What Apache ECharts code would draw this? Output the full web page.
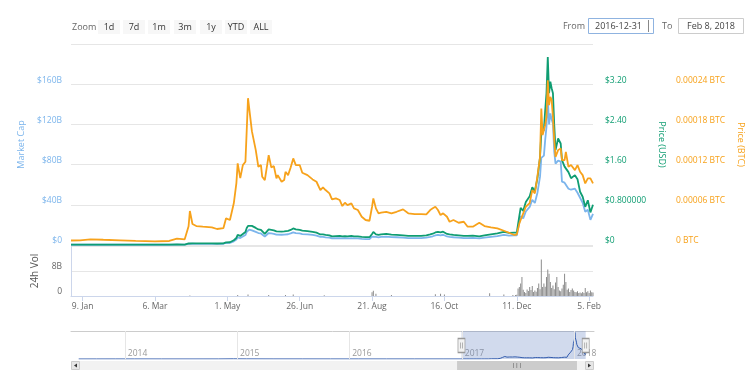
<!DOCTYPE html>
<html><head><meta charset="utf-8">
<script src="https://cdn.jsdelivr.net/npm/echarts@6/dist/echarts.min.js"></script>
<style>html,body{margin:0;padding:0;background:#fff;}#c{width:750px;height:375px;}</style>
</head><body><div id="c"></div>
<script>
// ---------- DATA ----------
const dates = ['2016-12-31','2017-01-07','2017-01-15','2017-01-25','2017-02-07','2017-02-19','2017-03-06','2017-03-17','2017-03-23','2017-03-29',
'2017-04-01','2017-04-02','2017-04-04','2017-04-07','2017-04-12','2017-04-19','2017-04-23','2017-04-28','2017-04-30','2017-05-03',
'2017-05-06','2017-05-08','2017-05-09','2017-05-11','2017-05-13','2017-05-15','2017-05-16','2017-05-17','2017-05-18','2017-05-20',
'2017-05-21','2017-05-23','2017-05-25','2017-05-27','2017-05-28','2017-05-30','2017-06-02','2017-06-04','2017-06-06','2017-06-08',
'2017-06-09','2017-06-12','2017-06-14','2017-06-15','2017-06-17','2017-06-19','2017-06-21','2017-06-23','2017-06-26','2017-06-28',
'2017-07-02','2017-07-06','2017-07-09','2017-07-12','2017-07-14','2017-07-16','2017-07-19','2017-07-21','2017-07-24','2017-07-27',
'2017-07-29','2017-07-31','2017-08-02','2017-08-05','2017-08-07','2017-08-10','2017-08-13','2017-08-16','2017-08-19','2017-08-20',
'2017-08-21','2017-08-22','2017-08-24','2017-08-26','2017-08-28','2017-09-01','2017-09-05','2017-09-09','2017-09-14','2017-09-18',
'2017-09-23','2017-09-28','2017-10-02','2017-10-05','2017-10-07','2017-10-09','2017-10-11','2017-10-13','2017-10-15','2017-10-18',
'2017-10-20','2017-10-23','2017-10-27','2017-10-31','2017-11-03','2017-11-07','2017-11-12','2017-11-16','2017-11-21','2017-11-26',
'2017-12-01','2017-12-05','2017-12-09','2017-12-11','2017-12-13','2017-12-14','2017-12-16','2017-12-18','2017-12-21','2017-12-23',
'2017-12-25','2017-12-27','2017-12-29','2017-12-30','2017-12-31','2018-01-01','2018-01-02','2018-01-03','2018-01-04','2018-01-05',
'2018-01-06','2018-01-07','2018-01-08','2018-01-09','2018-01-10','2018-01-12','2018-01-14','2018-01-15','2018-01-17','2018-01-18',
'2018-01-20','2018-01-22','2018-01-25','2018-01-27','2018-01-29','2018-01-31','2018-02-02','2018-02-04','2018-02-06','2018-02-08'];

// Market cap, billions of USD
const capValues = [0.23,0.24,0.25,0.25,0.25,0.24,0.25,0.26,0.35,0.33,
1.05,1.7,1.25,1.18,1.17,1.18,1.10,1.25,2.0,2.05,
3.6,5.4,7.6,6.9,8.4,9.9,13.0,14.6,15.3,14.6,
14.0,13.0,11.9,11.5,10.3,8.4,11.9,11.5,11.1,10.3,
10.7,10.2,10.3,10.9,10.7,11.5,12.6,11.9,11.5,10.9,
10.5,10.0,9.4,8.0,8.0,7.6,7.3,6.5,6.7,6.9,
6.5,6.7,6.5,6.9,6.5,6.5,6.1,5.9,5.9,6.3,
8.4,10.0,8.0,7.6,8.0,8.4,7.9,7.7,7.3,6.9,
6.9,6.9,7.3,8.1,8.7,9.6,10.0,9.6,10.2,8.5,
8.1,7.7,7.3,6.9,6.9,7.1,6.6,7.3,8.1,8.9,
10.0,9.3,9.5,9.5,22.5,28.8,26.5,33.3,37.9,45.0,
41.8,52.0,68.0,86.6,86.0,89.0,104.6,117.6,147.0,120.0,
131.0,125.0,121.0,93.0,81.0,84.0,83.0,63.0,62.0,62.0,
56.0,55.0,56.0,52.0,47.0,42.0,33.0,35.0,25.0,31.0];

// Price in USD
const usdValues = [0.0065,0.0065,0.0070,0.0069,0.0070,0.0065,0.0068,0.0070,0.0095,0.0090,
0.030,0.045,0.034,0.032,0.032,0.032,0.030,0.034,0.054,0.055,
0.095,0.14,0.20,0.18,0.22,0.26,0.34,0.38,0.40,0.38,
0.365,0.34,0.31,0.30,0.27,0.22,0.31,0.30,0.29,0.27,
0.28,0.265,0.27,0.285,0.28,0.30,0.33,0.31,0.30,0.285,
0.275,0.26,0.245,0.21,0.21,0.20,0.19,0.17,0.175,0.18,
0.17,0.175,0.17,0.18,0.17,0.17,0.16,0.155,0.155,0.165,
0.22,0.26,0.21,0.20,0.21,0.22,0.205,0.20,0.19,0.18,
0.18,0.18,0.19,0.21,0.225,0.25,0.26,0.25,0.265,0.22,
0.21,0.20,0.19,0.18,0.18,0.185,0.17,0.19,0.21,0.23,
0.26,0.24,0.245,0.245,0.58,0.74,0.68,0.855,0.97,1.15,
1.07,1.33,1.75,2.22,2.21,2.29,2.68,3.02,3.74,3.02,
3.25,3.12,3.02,2.39,1.89,2.12,2.02,1.69,1.56,1.59,
1.45,1.33,1.39,1.31,1.06,0.96,0.76,0.89,0.65,0.80];

// Price in BTC
const btcValues = [0.0000067,0.0000070,0.0000085,0.0000078,0.0000070,0.0000063,0.0000055,0.0000060,0.0000094,0.0000085,
0.0000280,0.0000507,0.0000313,0.0000283,0.0000273,0.0000264,0.0000239,0.0000253,0.0000398,0.0000373,
0.0000622,0.0000924,0.0001218,0.0000999,0.0001193,0.0001242,0.0001714,0.0002191,0.0002162,0.0001699,
0.0001714,0.0001416,0.0001167,0.0001193,0.0001018,0.0000969,0.0001342,0.0001158,0.0001178,0.0000994,
0.0001043,0.0000944,0.0000969,0.0001093,0.0001043,0.0001158,0.0001292,0.0001193,0.0001193,0.0001078,
0.0001043,0.0000979,0.0000944,0.0000820,0.0000860,0.0000820,0.0000771,0.0000681,0.0000696,0.0000671,
0.0000581,0.0000631,0.0000596,0.0000622,0.0000547,0.0000522,0.0000422,0.0000373,0.0000362,0.0000373,
0.0000571,0.0000696,0.0000547,0.0000473,0.0000482,0.0000496,0.0000473,0.0000496,0.0000532,0.0000473,
0.0000462,0.0000462,0.0000458,0.0000522,0.0000547,0.0000571,0.0000522,0.0000447,0.0000473,0.0000422,
0.0000347,0.0000373,0.0000332,0.0000347,0.0000273,0.0000273,0.0000332,0.0000283,0.0000264,0.0000249,
0.0000213,0.0000183,0.0000149,0.0000157,0.0000323,0.0000373,0.0000473,0.0000571,0.0000626,0.0000820,
0.0000771,0.0001029,0.0001312,0.0002038,0.0001640,0.0001665,0.0001789,0.0001913,0.0002460,0.0002087,
0.0002211,0.0002162,0.0001913,0.0001565,0.0001316,0.0001416,0.0001442,0.0001267,0.0001267,0.0001391,
0.0001167,0.0001193,0.0001118,0.0001193,0.0001093,0.0001043,0.0000920,0.0000994,0.0000994,0.0000920];

// 24h volume, billions of USD
const volDates = ['2017-04-02','2017-05-09','2017-05-17','2017-06-02','2017-06-15','2017-06-21','2017-07-15','2017-08-21','2017-08-22','2017-08-24',
'2017-09-05','2017-10-09','2017-10-13','2017-10-16','2017-11-20','2017-12-01','2017-12-08',
'2017-12-10','2017-12-11','2017-12-12','2017-12-13','2017-12-14','2017-12-15','2017-12-16','2017-12-17','2017-12-18','2017-12-19',
'2017-12-20','2017-12-21','2017-12-22','2017-12-23','2017-12-24','2017-12-25','2017-12-26','2017-12-27','2017-12-28','2017-12-29',
'2017-12-30','2017-12-31','2018-01-01','2018-01-02','2018-01-03','2018-01-04','2018-01-05','2018-01-06','2018-01-07','2018-01-08',
'2018-01-09','2018-01-10','2018-01-11','2018-01-12','2018-01-13','2018-01-14','2018-01-15','2018-01-16','2018-01-17','2018-01-18',
'2018-01-19','2018-01-20','2018-01-21','2018-01-22','2018-01-23','2018-01-24','2018-01-25','2018-01-26','2018-01-27','2018-01-28',
'2018-01-29','2018-01-30','2018-01-31','2018-02-01','2018-02-02','2018-02-03','2018-02-04','2018-02-05','2018-02-06','2018-02-07','2018-02-08'];
const volValues = [0.15,0.3,0.45,0.35,0.35,0.45,0.25,1.2,1.7,0.7,
0.35,0.6,0.7,0.45,0.9,0.5,0.3,
0.3,0.4,2.4,2.9,4.0,6.1,2.0,1.3,1.0,2.1,
1.6,2.9,1.9,3.2,1.3,1.8,1.4,2.6,4.0,2.2,
11.7,2.9,4.0,3.0,6.1,8.5,7.1,4.5,2.6,3.4,
2.2,4.3,6.1,2.9,1.8,1.5,2.4,3.6,7.1,4.5,
2.0,2.4,1.3,1.9,2.4,1.8,1.3,1.2,1.5,1.0,
1.1,0.9,1.3,1.0,2.6,1.2,1.5,1.0,1.8,1.2,1.1];

// Navigator history before the selected range (market cap, billions)
const navDates = ['2013-08-04','2013-10-01','2013-12-01','2014-02-01','2014-05-01','2014-08-01','2014-11-01','2014-12-20','2015-02-01','2015-05-01',
'2015-08-01','2015-11-01','2016-02-01','2016-05-01','2016-08-01','2016-11-01','2016-12-30'];
const navCapValues = [0.05,0.1,0.25,0.2,0.15,0.15,0.2,0.9,0.6,0.3,0.3,0.2,0.25,0.25,0.25,0.25,0.23];

const xTickDates = ['2017-01-09','2017-03-06','2017-05-01','2017-06-26','2017-08-21','2017-10-16','2017-12-11','2018-02-05'];
const xTickLabels = ['9. Jan','6. Mar','1. May','26. Jun','21. Aug','16. Oct','11. Dec','5. Feb'];
const navYearDates = ['2014-01-01','2015-01-01','2016-01-01','2017-01-01','2018-01-01'];
const navYearLabels = ['2014','2015','2016','2017','2018'];
const zoomButtons = ['1d','7d','1m','3m','1y','YTD','ALL'];
const rangeStart = '2016-12-31', rangeEnd = '2018-02-08';
const rangeStartText = '2016-12-31', rangeEndText = 'Feb 8, 2018';
const navStart = '2013-07-10', navEnd = '2018-03-07';

// ---------- CHART ----------
const FONT = 'Open Sans';
const C_CAP = '#7cb5ec', C_USD = '#0f9d72', C_BTC = '#f7a21b';
const T = s => { const p = s.split('-').map(Number); return new Date(p[0], p[1]-1, p[2]).getTime(); };
const xTickTimes = xTickDates.map(T);
const navYearTimes = navYearDates.map(T);
const lookup = (times, labels) => v => { for (let i = 0; i < times.length; i++) if (Math.abs(times[i]-v) < 43200000) return labels[i]; return ''; };
const pair = (xs, ys) => xs.map((d, i) => [T(d), ys[i]]);

const chart = echarts.init(document.getElementById('c'), null, {renderer: 'canvas'});

const graphic = [
  {type:'text', x:72, y:27, style:{text:'Zoom', fill:'#666', font:'9px ' + FONT, verticalAlign:'middle'}}
];
const btnX = [98,123,148,174,200,225,250];
zoomButtons.forEach((b, i) => {
  graphic.push({type:'rect', shape:{x:btnX[i], y:20, width:22, height:14}, style:{fill:'#f7f7f7'}});
  graphic.push({type:'text', x:btnX[i]+11, y:27, style:{text:b, fill:'#333', font:'9px ' + FONT, align:'center', verticalAlign:'middle'}});
});
graphic.push(
  {type:'text', x:585, y:26, style:{text:'From', fill:'#666', font:'9px ' + FONT, align:'right', verticalAlign:'middle'}},
  {type:'rect', shape:{x:588.5, y:18.5, width:65, height:15}, style:{fill:'#fff', stroke:'#8fb3e0', lineWidth:1}},
  {type:'text', x:595, y:26, style:{text:rangeStartText, fill:'#444', font:'9px ' + FONT, verticalAlign:'middle'}},
  {type:'line', shape:{x1:648.5, y1:20, x2:648.5, y2:32}, style:{stroke:'#888', lineWidth:1}},
  {type:'text', x:662, y:26, style:{text:'To', fill:'#666', font:'9px ' + FONT, verticalAlign:'middle'}},
  {type:'rect', shape:{x:678.5, y:18.5, width:65, height:15}, style:{fill:'#fff', stroke:'#cccccc', lineWidth:1}},
  {type:'text', x:711, y:26, style:{text:rangeEndText, fill:'#444', font:'9px ' + FONT, align:'center', verticalAlign:'middle'}},
  {type:'rect', shape:{x:71.5, y:361.5, width:8, height:8}, style:{fill:'#e6e6e6', stroke:'#cccccc', lineWidth:1}},
  {type:'polygon', shape:{points:[[77,363.5],[77,367.5],[74,365.5]]}, style:{fill:'#333'}},
  {type:'rect', shape:{x:585.5, y:361.5, width:8, height:8}, style:{fill:'#e6e6e6', stroke:'#cccccc', lineWidth:1}},
  {type:'polygon', shape:{points:[[588,363.5],[588,367.5],[591,365.5]]}, style:{fill:'#333'}}
);

const lbl = (color, extra) => Object.assign({color: color, fontSize: 8.5, fontFamily: FONT}, extra || {});
const yLbl = (color, extra) => lbl(color, Object.assign({verticalAlign:'bottom', lineHeight:8}, extra));

const option = {
  animation: false,
  backgroundColor: '#fff',
  textStyle: {fontFamily: FONT},
  graphic: graphic,
  grid: [
    {left:71, right:157, top:44, height:201, outerBoundsMode:'none'},
    {left:71, right:157, top:246, height:50, outerBoundsMode:'none'},
    {left:71, right:156, top:331, height:28, outerBoundsMode:'none'},
    {left:80, right:165, top:361, height:9, show:true, backgroundColor:'#f2f2f2', borderWidth:0, outerBoundsMode:'none'}
  ],
  xAxis: [
    {gridIndex:0, type:'value', min:T(rangeStart), max:T(rangeEnd), show:false},
    {gridIndex:1, type:'value', min:T(rangeStart), max:T(rangeEnd),
      axisLine:{show:true, lineStyle:{color:'#ccd6eb'}},
      axisTick:{show:true, length:5, lineStyle:{color:'#ccd6eb'}, customValues:xTickTimes},
      axisLabel:lbl('#666', {customValues:xTickTimes, margin:6, formatter: lookup(xTickTimes, xTickLabels)}),
      splitLine:{show:false}},
    {gridIndex:2, type:'value', min:T(navStart), max:T(navEnd),
      axisLine:{show:false}, axisTick:{show:false}, splitLine:{show:false},
      axisLabel:lbl('#999', {inside:true, margin:1, align:'left', padding:[0,0,0,3], customValues:navYearTimes, formatter: lookup(navYearTimes, navYearLabels)})},
    {gridIndex:2, type:'value', position:'top', min:T(navStart), max:T(navEnd),
      axisLine:{show:true, lineStyle:{color:'#cccccc'}}, axisTick:{show:false}, axisLabel:{show:false}, splitLine:{show:false}},
    {gridIndex:3, type:'value', min:T(navStart), max:T(navEnd), show:false}
  ],
  yAxis: [
    {gridIndex:0, type:'value', min:0, max:200, interval:40, position:'left',
      name:'Market Cap', nameLocation:'middle', nameGap:39, nameRotate:90,
      nameTextStyle:{color:C_CAP, fontSize:9, fontFamily:FONT},
      axisLine:{show:false}, axisTick:{show:false},
      axisLabel:yLbl(C_CAP, {margin:9, showMaxLabel:false, formatter: v => v === 0 ? '$0' : '$' + v + 'B'}),
      splitLine:{show:true, lineStyle:{color:'#e6e6e6', width:1}}},
    {gridIndex:0, type:'value', min:0, max:4, interval:0.8, position:'right',
      name:'Price (USD)', nameLocation:'middle', nameGap:50, nameRotate:-90,
      nameTextStyle:{color:C_USD, fontSize:9, fontFamily:FONT},
      axisLine:{show:false}, axisTick:{show:false}, splitLine:{show:false},
      axisLabel:yLbl(C_USD, {margin:12, showMaxLabel:false, formatter: v => {
        const r = Math.round(v*100)/100;
        if (r === 0) return '$0';
        if (r === 0.8) return '$0.800000';
        return '$' + r.toFixed(2);
      }})},
    {gridIndex:0, type:'value', min:0, max:0.0003, interval:0.00006, position:'right', offset:71,
      name:'Price (BTC)', nameLocation:'middle', nameGap:53, nameRotate:-90,
      nameTextStyle:{color:C_BTC, fontSize:9, fontFamily:FONT},
      axisLine:{show:false}, axisTick:{show:false}, splitLine:{show:false},
      axisLabel:yLbl(C_BTC, {margin:12, showMaxLabel:false, formatter: v => {
        const r = parseFloat(v.toFixed(5));
        return r === 0 ? '0 BTC' : r + ' BTC';
      }})},
    {gridIndex:1, type:'value', min:0, max:16, interval:8, position:'left',
      name:'24h Vol', nameLocation:'middle', nameGap:31, nameRotate:90,
      nameTextStyle:{color:'#555', fontSize:10, fontFamily:FONT},
      axisLine:{show:true, lineStyle:{color:'#ccd6eb'}}, axisTick:{show:false},
      axisLabel:yLbl('#666', {margin:9, showMaxLabel:false, formatter: v => v === 0 ? '0' : v + 'B'}),
      splitLine:{show:true, lineStyle:{color:'#e6e6e6'}}},
    {gridIndex:2, type:'value', min:0, max:155, show:false},
    {gridIndex:3, type:'value', min:0, max:1, show:false}
  ],
  series: [
    {name:'Market Cap', type:'line', xAxisIndex:0, yAxisIndex:0, data:pair(dates, capValues),
      showSymbol:false, lineStyle:{color:C_CAP, width:1.8}, itemStyle:{color:C_CAP}, z:2},
    {name:'Price (USD)', type:'line', xAxisIndex:0, yAxisIndex:1, data:pair(dates, usdValues),
      showSymbol:false, lineStyle:{color:C_USD, width:1.8}, itemStyle:{color:C_USD}, z:3},
    {name:'Price (BTC)', type:'line', xAxisIndex:0, yAxisIndex:2, data:pair(dates, btcValues),
      showSymbol:false, lineStyle:{color:C_BTC, width:1.8}, itemStyle:{color:C_BTC}, z:4},
    {name:'24h Vol', type:'bar', xAxisIndex:1, yAxisIndex:3, data:pair(volDates, volValues),
      barWidth:1, itemStyle:{color:'#8c8c8c'}},
    {name:'Navigator', type:'line', xAxisIndex:2, yAxisIndex:4,
      data:pair(navDates, navCapValues).concat(pair(dates, capValues)),
      showSymbol:false, lineStyle:{color:'#335cad', width:1}, areaStyle:{color:'rgba(51,92,173,0.05)'},
      markLine:{silent:true, symbol:'none', label:{show:false}, lineStyle:{color:'#e6e6e6', type:'solid', width:1},
        data: navYearTimes.map(t => ({xAxis: t}))},
      markArea:{silent:true, itemStyle:{color:'rgba(102,133,194,0.3)'}, data:[[{xAxis:T(rangeStart)},{xAxis:T(rangeEnd)}]]},
      markPoint:{silent:true, symbol:'path://M0,0L7,0L7,14L0,14Z M2.5,4L2.5,10 M4.5,4L4.5,10', symbolSize:[7,14],
        itemStyle:{color:'#f2f2f2', borderColor:'#999', borderWidth:1}, label:{show:false},
        data:[{coord:[T(rangeStart), 75]}, {coord:[T(rangeEnd), 75]}]}},
    {name:'Scrollbar', type:'line', xAxisIndex:4, yAxisIndex:5, data:[],
      markArea:{silent:true, itemStyle:{color:'#cccccc'},
        label:{show:true, position:'inside', formatter:'|||', color:'#444', fontSize:6},
        data:[[{xAxis:T(rangeStart)},{xAxis:T(rangeEnd)}]]}}
  ]
};
chart.setOption(option);
</script>
</body></html>
